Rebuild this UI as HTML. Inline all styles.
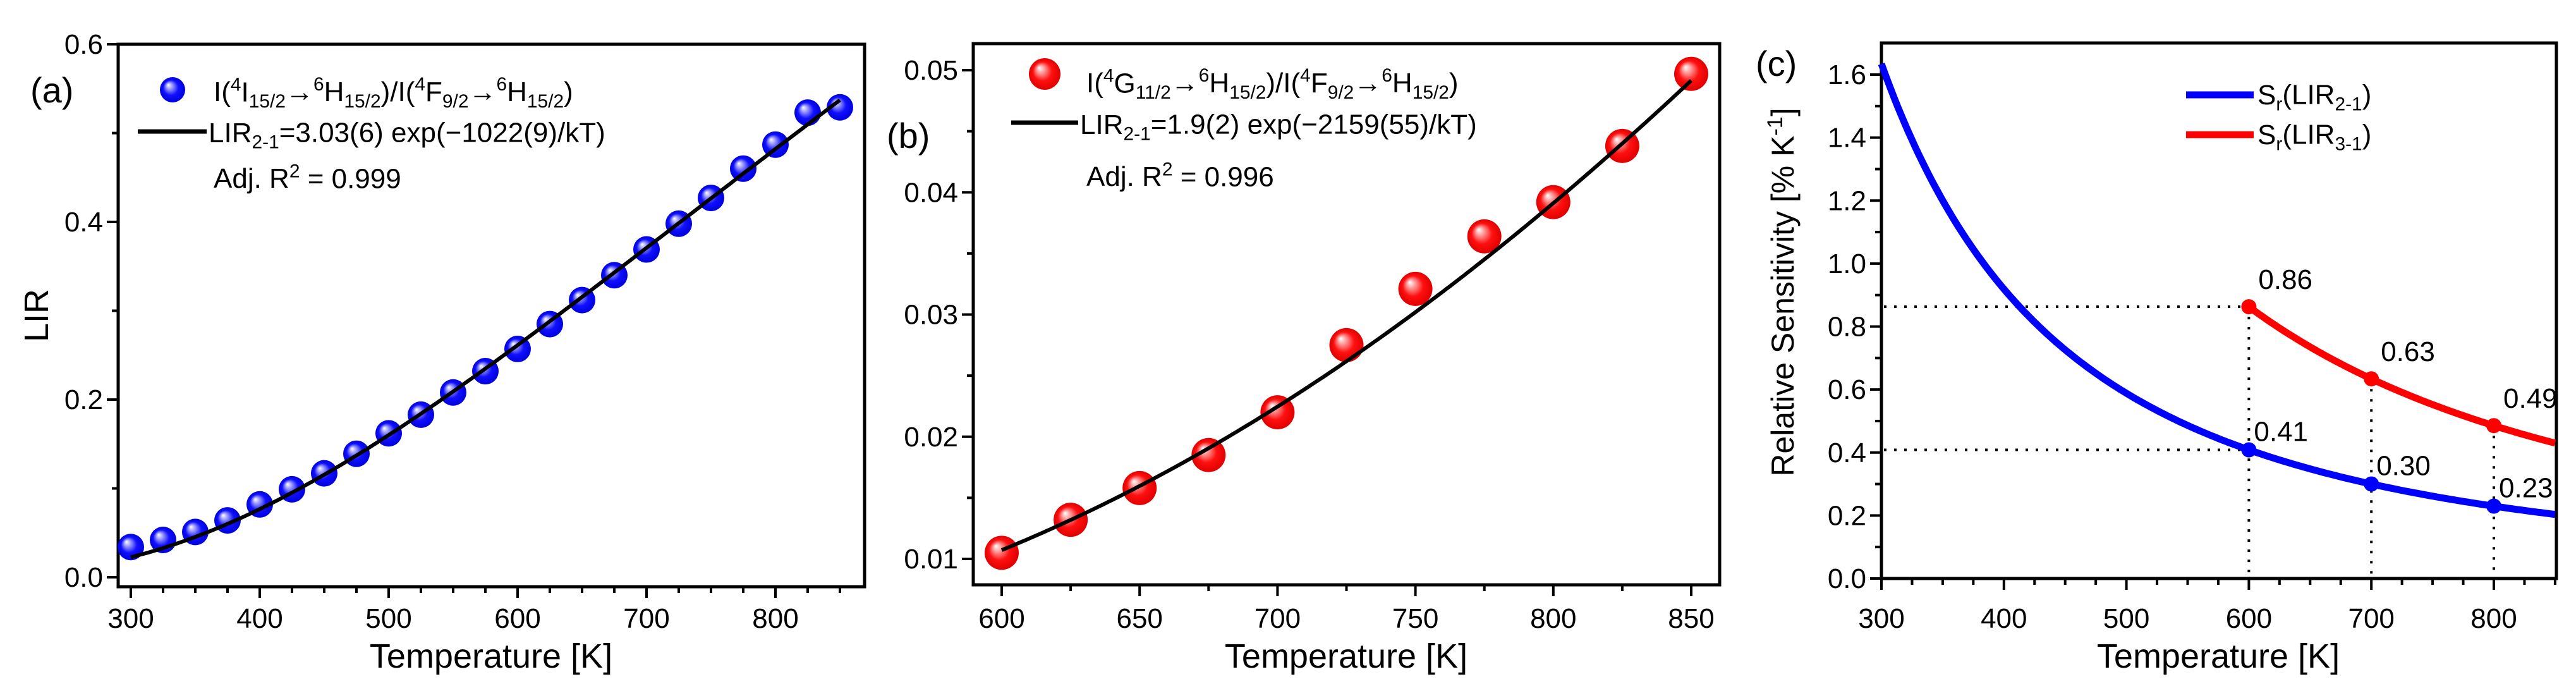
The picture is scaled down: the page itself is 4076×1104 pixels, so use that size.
<!DOCTYPE html>
<html><head><meta charset="utf-8"><style>
html,body{margin:0;padding:0;background:#fff;}
svg{display:block;font-family:"Liberation Sans",Arial,sans-serif;}
</style></head><body>
<svg id="fig" width="4076" height="1104" viewBox="0 0 4076 1104" xmlns="http://www.w3.org/2000/svg">
<defs>
<radialGradient id="gBlue" cx="0.5" cy="0.5" r="0.5" fx="0.33" fy="0.3">
<stop offset="0" stop-color="#ffffff"/><stop offset="0.25" stop-color="#9a9aff"/><stop offset="0.6" stop-color="#1010ff"/><stop offset="1" stop-color="#0000dd"/></radialGradient>
<radialGradient id="gRed" cx="0.5" cy="0.5" r="0.5" fx="0.33" fy="0.3">
<stop offset="0" stop-color="#ffffff"/><stop offset="0.25" stop-color="#ff9a9a"/><stop offset="0.6" stop-color="#ff1010"/><stop offset="1" stop-color="#e00000"/></radialGradient>
</defs>
<g id="pa"></g>
<g id="pb"></g>
<g id="pc"></g>
</svg>
<script>
// ---- Panel (a) data ----
const tempA = [300,325,350,375,400,425,450,475,500,525,550,575,600,625,650,675,700,725,750,775,800,825,850];
const lirA = [0.034,0.042,0.051,0.064,0.082,0.099,0.117,0.139,0.162,0.183,0.208,0.232,0.257,0.285,0.312,0.340,0.369,0.398,0.427,0.460,0.487,0.523,0.529];
const fitA = [3.03, 1022]; // prefactor, energy (cm^-1)
const xTicksA = [300,400,500,600,700,800];
const yTicksA = [0.0,0.2,0.4,0.6];
// ---- Panel (b) data ----
const tempB = [600,625,650,675,700,725,750,775,800,825,850];
const lirB = [0.0105,0.0132,0.0158,0.0185,0.0220,0.0275,0.0321,0.0364,0.0392,0.0438,0.0497];
const fitB = [1.9, 2159];
const xTicksB = [600,650,700,750,800,850];
const yTicksB = [0.01,0.02,0.03,0.04,0.05];
// ---- Panel (c) data ----
const energiesC = [1022, 2159];
const markTemps = [600,700,800];
const srBlueLabels = ["0.41","0.30","0.23"];
const srRedLabels = ["0.86","0.63","0.49"];
const xTicksC = [300,400,500,600,700,800];
const yTicksC = [0.0,0.2,0.4,0.6,0.8,1.0,1.2,1.4,1.6];

const NS="http://www.w3.org/2000/svg";
const KB=0.695;
function el(tag,attrs,parent,txt){const e=document.createElementNS(NS,tag);for(const k in attrs)e.setAttribute(k,attrs[k]);if(txt!==undefined)e.textContent=txt;parent.appendChild(e);return e;}
function scale(d0,d1,r0,r1){return v=>r0+(v-d0)/(d1-d0)*(r1-r0);}

function frame(g,L,T,R,B,sx,sy,xt,xmin,xmax,xminorStep,yt,ymin,ymax,yminorStep,ydec){
  for(let v=Math.ceil(xmin/xminorStep)*xminorStep; v<=xmax+1e-9; v+=xminorStep){
    const major = xt.some(t=>Math.abs(t-v)<1e-6);
    const t=el('line',{x1:sx(v),x2:sx(v),y1:B,y2:B+(major?18:10),stroke:'#000','stroke-width':4},g);
    
    
  }
  xt.forEach(v=>{const t=el('text',{x:sx(v),y:993,'font-size':44,'text-anchor':'middle'},g,String(v));
    
    });
  const n=Math.round((ymax-ymin)/yminorStep);
  for(let i=0;i<=n;i++){const v=ymin+i*yminorStep;
    const major=yt.some(t=>Math.abs(t-v)<1e-9);
    const t=el('line',{x1:L,x2:L-(major?18:10),y1:sy(v),y2:sy(v),stroke:'#000','stroke-width':4},g);
    
    }
  yt.forEach(v=>{const t=el('text',{x:L-24,y:sy(v)+15,'font-size':44,'text-anchor':'end'},g,v.toFixed(ydec));
    
    });
  const r=el('rect',{x:L,y:T,width:R-L,height:B-T,fill:'none',stroke:'#000','stroke-width':5},g);
  
  
}
function richText(g,x,y,parts,size,name){
  const t=el('text',{x:x,y:y,'font-size':size},g);
  
  
  parts.forEach(p=>{
    const s=el('tspan',{},t,p[0]);
    if(p[1]==='sup'){s.setAttribute('font-size',size*0.68);s.setAttribute('dy',-size*0.38);}
    if(p[1]==='sub'){s.setAttribute('font-size',size*0.68);s.setAttribute('dy',size*0.22);}
    if(p[2]) s.setAttribute('dy',p[2]);
  });
  return t;
}
function fitPath(sx,sy,A,E,t0,t1){let d='';for(let i=0;i<=200;i++){const T=t0+(t1-t0)*i/200;const v=A*Math.exp(-E/(KB*T));d+=(i?'L':'M')+sx(T).toFixed(1)+','+sy(v).toFixed(1);}return d;}

// ---------- Panel a ----------
(function(){
 const g=document.getElementById('pa');
 const L=187,T=70,R=1368,B=928;
 const sx=scale(300,850,207,1329), sy=scale(0,0.6,913,70);
 frame(g,L,T,R,B,sx,sy,xTicksA,300,850,25,yTicksA,0,0.6,0.1,1);
 tempA.forEach((t,i)=>{const c=el('circle',{cx:sx(t),cy:sy(lirA[i]),r:21,fill:'url(#gBlue)'},g);
   
   });
 const p=el('path',{d:fitPath(sx,sy,fitA[0],fitA[1],300,850),fill:'none',stroke:'#000','stroke-width':6},g);
 
 
 const lm=el('circle',{cx:273,cy:142,r:20,fill:'url(#gBlue)'},g);
 
 
 richText(g,338,160,[['I('],['4','sup'],['I',null,17],['15/2','sub'],['→',null,-10],['6','sup'],['H',null,17],['15/2','sub'],[')/I(',null,-10],['4','sup'],['F',null,17],['9/2','sub'],['→',null,-10],['6','sup'],['H',null,17],['15/2','sub'],[')',null,-10]],44,'legend-entry-data-a');
 const ll=el('line',{x1:218,x2:327,y1:208,y2:208,stroke:'#000','stroke-width':7},g);
 
 
 richText(g,330,225,[['LIR'],['2-1','sub'],['=3.03(6) exp(−1022(9)/kT)',null,-10]],44,'legend-entry-fit-a');
 richText(g,338,297,[['Adj. R'],['2','sup'],[' = 0.999',null,17]],44,'r-squared-a');
 const a=el('text',{x:48,y:162,'font-size':56},g,'(a)');
 
 
 const xt=el('text',{x:777,y:1056,'font-size':54,'text-anchor':'middle'},g,'Temperature [K]');
 
 
 const yt=el('text',{x:0,y:0,'font-size':54,'text-anchor':'middle',transform:'translate(76,499) rotate(-90)'},g,'LIR');
 
 
})();

// ---------- Panel b ----------
(function(){
 const g=document.getElementById('pb');
 const L=1540,T=69,R=2721,B=925;
 const sx=scale(600,850,1585,2676), sy=scale(0.01,0.05,884,111);
 frame(g,L,T,R,B,sx,sy,xTicksB,590,860,25,yTicksB,0.01,0.05,0.005,2);
 tempB.forEach((t,i)=>{const c=el('circle',{cx:sx(t),cy:sy(lirB[i]),r:27,fill:'url(#gRed)'},g);
   
   });
 const p=el('path',{d:fitPath(sx,sy,fitB[0],fitB[1],600,850),fill:'none',stroke:'#000','stroke-width':6},g);
 
 
 const lm=el('circle',{cx:1653,cy:117,r:25,fill:'url(#gRed)'},g);
 
 
 richText(g,1719,146,[['I('],['4','sup'],['G',null,17],['11/2','sub'],['→',null,-10],['6','sup'],['H',null,17],['15/2','sub'],[')/I(',null,-10],['4','sup'],['F',null,17],['9/2','sub'],['→',null,-10],['6','sup'],['H',null,17],['15/2','sub'],[')',null,-10]],44,'legend-entry-data-b');
 const ll=el('line',{x1:1600,x2:1706,y1:194,y2:194,stroke:'#000','stroke-width':7},g);
 
 
 richText(g,1709,212,[['LIR'],['2-1','sub'],['=1.9(2) exp(−2159(55)/kT)',null,-10]],44,'legend-entry-fit-b');
 richText(g,1719,294,[['Adj. R'],['2','sup'],[' = 0.996',null,17]],44,'r-squared-b');
 const a=el('text',{x:1403,y:234,'font-size':56},g,'(b)');
 
 
 const xt=el('text',{x:2130,y:1056,'font-size':54,'text-anchor':'middle'},g,'Temperature [K]');
 
 
})();

// ---------- Panel c ----------
(function(){
 const g=document.getElementById('pc');
 const L=2977,T=68,R=4045,B=915;
 const sx=scale(300,800,2977,3946), sy=scale(0,1.6,915,118);
 frame(g,L,T,R,B,sx,sy,xTicksC,300,850,25,yTicksC,0,1.6,0.1,1);
 const sr=(E,Tk)=>E/KB/(Tk*Tk)*100;
 const red600=sr(energiesC[1],markTemps[0]), blue600=sr(energiesC[0],markTemps[0]);
 [red600,blue600].forEach(v=>{const d=el('line',{x1:L+4,x2:sx(markTemps[0]),y1:sy(v),y2:sy(v),stroke:'#000','stroke-width':4,'stroke-dasharray':'4,12'},g);
   
   });
 markTemps.forEach((t,i)=>{const top=sr(energiesC[1],t);
   const d=el('line',{x1:sx(t),x2:sx(t),y1:sy(top),y2:B-4,stroke:'#000','stroke-width':4,'stroke-dasharray':'4,12'},g);
   
   });
 function curve(E,t0,color,name){let d='';for(let i=0;i<=200;i++){const T=t0+(850-t0)*i/200;d+=(i?'L':'M')+sx(T).toFixed(1)+','+sy(sr(E,T)).toFixed(1);}
   const p=el('path',{d:d,fill:'none',stroke:color,'stroke-width':11},g);
   
   }
 curve(energiesC[0],300,'#0000ff','sr-lir21-curve');
 curve(energiesC[1],600,'#ff0000','sr-lir31-curve');
 markTemps.forEach((t,i)=>{
   const vb=sr(energiesC[0],t), vr=sr(energiesC[1],t);
   const cb=el('circle',{cx:sx(t),cy:sy(vb),r:12,fill:'#0000ff'},g);
   
   
   const cr=el('circle',{cx:sx(t),cy:sy(vr),r:12,fill:'#ff0000'},g);
   
   
   const lb=el('text',{x:sx(t)+8,y:sy(vb)-14,'font-size':44},g,srBlueLabels[i]);
   
   
   const lr=el('text',{x:sx(t)+15,y:sy(vr)-28,'font-size':44},g,srRedLabels[i]);
   
   
 });
 const l1=el('line',{x1:3459,x2:3566,y1:150,y2:150,stroke:'#0000ff','stroke-width':11},g);
 
 
 richText(g,3572,165,[['S'],['r','sub'],['(LIR',null,-10],['2-1','sub'],[')',null,-10]],44,'legend-entry-lir21');
 const l2=el('line',{x1:3459,x2:3566,y1:213,y2:213,stroke:'#ff0000','stroke-width':11},g);
 
 
 richText(g,3572,228,[['S'],['r','sub'],['(LIR',null,-10],['3-1','sub'],[')',null,-10]],44,'legend-entry-lir31');
 const a=el('text',{x:2778,y:120,'font-size':56},g,'(c)');
 
 
 const xt=el('text',{x:3510,y:1056,'font-size':54,'text-anchor':'middle'},g,'Temperature [K]');
 
 
 const yt=el('text',{x:0,y:0,'font-size':50,'text-anchor':'middle',transform:'translate(2838,462) rotate(-90)'},g);
 
 
 el('tspan',{},yt,'Relative Sensitivity [% K');
 el('tspan',{'font-size':34,dy:-18},yt,'-1');
 el('tspan',{dy:18},yt,']');
})();
</script>
</body></html>
